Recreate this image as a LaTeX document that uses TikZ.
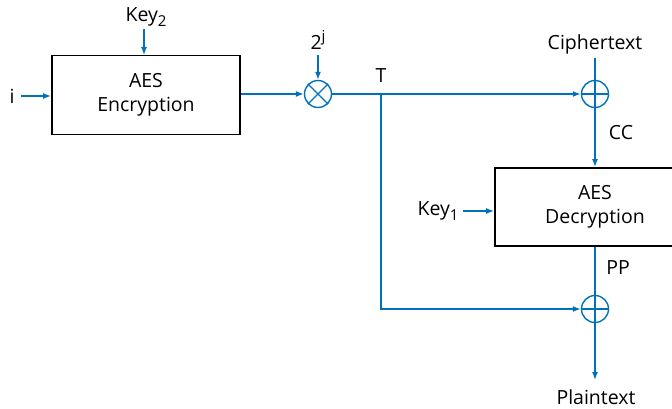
\documentclass[tikz,border=0pt]{standalone}
\usepackage{fontspec}
\setmainfont{Open Sans}
\usetikzlibrary{arrows.meta}
\definecolor{lblue}{RGB}{0,114,188}
\newcommand{\mysub}[1]{\raisebox{-0.45ex}{\fontsize{15}{15}\selectfont #1}}
\newcommand{\mysup}[1]{\raisebox{0.75ex}{\fontsize{15}{15}\selectfont #1}}
\begin{document}
\begin{tikzpicture}[x=1pt,y=-1pt,
  conn/.style={draw=lblue,line width=1.4pt},
  arr/.style={conn,-{Latex[length=8pt,width=6pt]}},
  blk/.style={draw=black,line width=1.8pt,align=center,inner sep=0pt,font=\fontsize{19.5}{24}\selectfont},
  lbl/.style={inner sep=1pt,font=\fontsize{19.5}{22}\selectfont},
  opcirc/.style={circle,draw=lblue,line width=1.4pt,minimum size=27pt,inner sep=0pt}]
\useasboundingbox (0,0) rectangle (672,409);
\clip (0,0) rectangle (672,409);
% encryption
\node[blk,minimum width=188pt,minimum height=79pt] (enc) at (146,95) {AES\\Encryption};
\node[lbl] (i) at (12,96) {i};
\node[lbl] (key2) at (146,17) {Key\mysub{2}};
\coordinate (key2s) at (144,29);
\draw[arr] (21,96) coordinate (is) -- (enc.west |- is);
\draw[arr] (key2s) -- (144,55);
% multiply
\node[opcirc] (mul) at (318,94) {};
\draw[lblue,line width=1.4pt] (mul.north west) -- (mul.south east) (mul.north east) -- (mul.south west);
\node[lbl] (two) at (318,40) {2\mysup{j}};
\coordinate (twos) at (318,55);
\draw[arr] (twos) -- (mul.north);
\draw[arr] (enc.east |- mul) -- (mul.west);
% top xor
\node[opcirc] (x1) at (595,94) {};
\draw[lblue,line width=1.4pt] (x1.north) -- (x1.south) (x1.west) -- (x1.east);
\node[lbl] (ct) at (595,44) {Ciphertext};
\coordinate (cts) at (595,58);
\draw[conn] (cts) -- (x1.north);
\coordinate (br) at (381,94);
\draw[arr] (mul.east) -- (x1.west);
\node[lbl] (T) at (381,76) {T};
% decryption
\node[blk,minimum width=200pt,minimum height=78pt] (dec) at (595,207) {AES\\Decryption};
\draw[arr] (x1.south) -- (dec.north);
\node[lbl] (cc) at (621,133) {CC};
\node[lbl] (key1) at (438,211) {Key\mysub{1}};
\draw[arr] (463,211) -- (dec.west |- 0,211);
% bottom xor
\node[opcirc] (x2) at (595,309) {};
\draw[lblue,line width=1.4pt] (x2.north) -- (x2.south) (x2.west) -- (x2.east);
\draw[conn] (dec.south) -- (x2.north);
\node[lbl] (pp) at (618,268) {PP};
\draw[arr] (br) -- (381,309) -- (x2.west);
\node[lbl] (pt) at (596,397) {Plaintext};
\draw[arr] (x2.south) -- (595,380);
\end{tikzpicture}
\end{document}
